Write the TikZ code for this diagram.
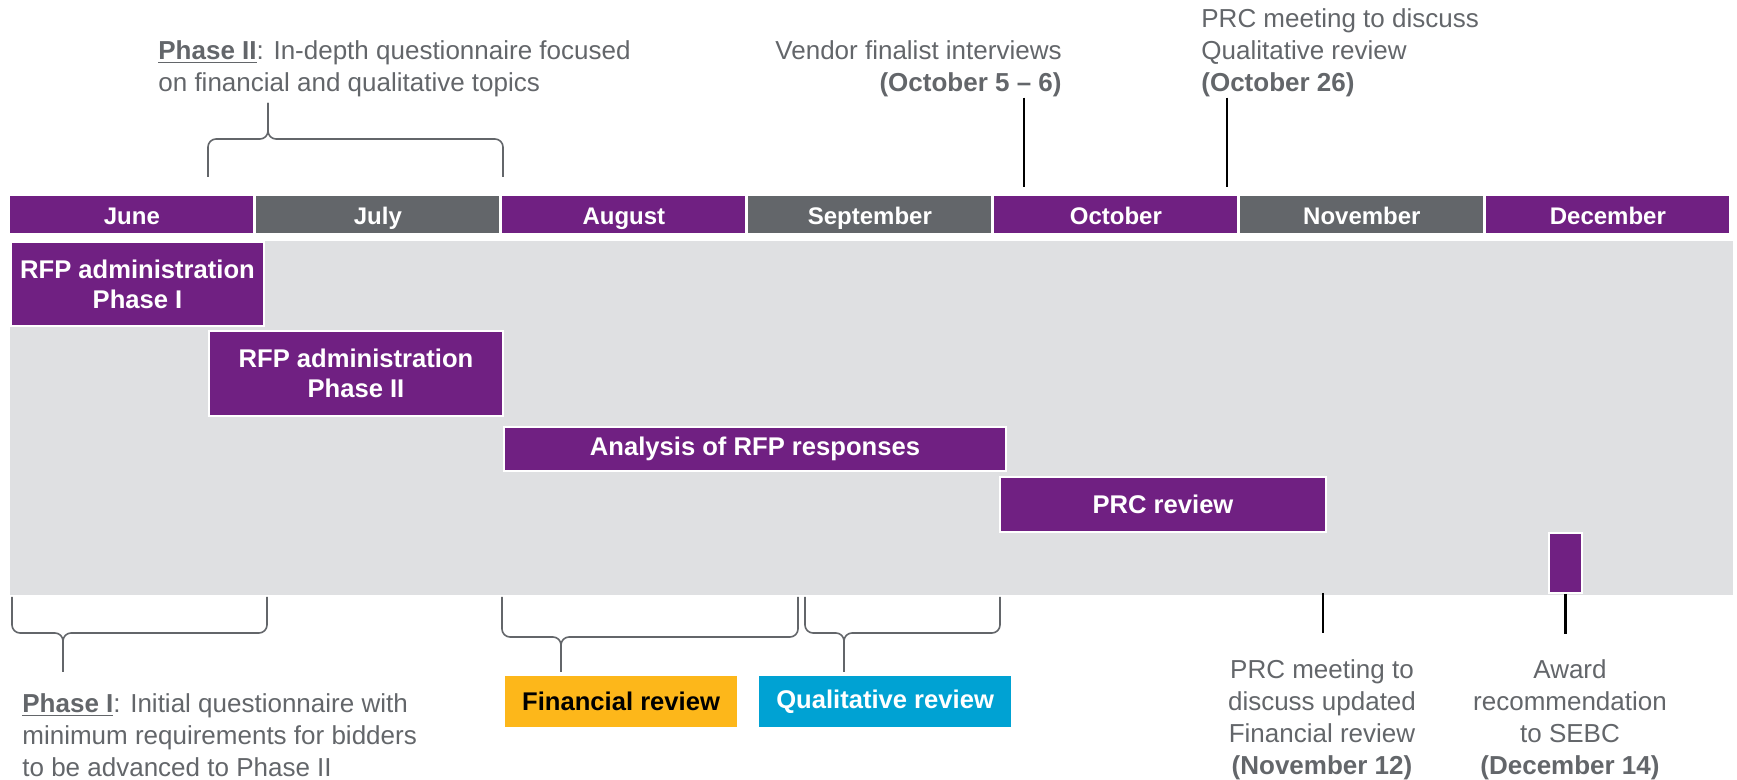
\documentclass[tikz,border=0pt]{standalone}
\usepackage{fontspec}
\setmainfont{Liberation Sans}
\usetikzlibrary{positioning}

\definecolor{rfppurple}{RGB}{112,32,130}
\definecolor{monthgray}{RGB}{99,102,106}
\definecolor{bggray}{RGB}{223,224,226}
\definecolor{finorange}{RGB}{253,183,26}
\definecolor{qualblue}{RGB}{0,162,211}
\definecolor{notegray}{RGB}{99,102,106}

% bracket: left x, right x, tip x, leg y, middle y, tip y
\newcommand{\phasebrace}[6]{%
	\draw[bracket] (#1,#4) -- (#1,#5) -- (#3,#5) -- (#3,#6);
	\draw[bracket] (#2,#4) -- (#2,#5) -- (#3,#5) -- (#3,#6);}

\begin{document}
\begin{tikzpicture}[
		x=0.5pt, y=-0.5pt,
		month/.style={fill=#1, text=white, font=\fontsize{12}{14}\selectfont\bfseries, anchor=north west, minimum width=121.5pt, minimum height=18.5pt, inner sep=0pt, text height=11.4pt, text depth=2.2pt},
		task/.style={draw=white, line width=1pt, fill=rfppurple, text=white, font=\fontsize{12.8}{15}\selectfont\bfseries, align=center, anchor=north west, inner sep=0pt},
		review/.style={draw=white, line width=0.6pt, font=\fontsize{12.8}{15}\selectfont\bfseries, anchor=north west, inner sep=0pt, minimum height=26pt},
		note/.style={text=notegray, font=\fontsize{13}{16}\selectfont, inner sep=0pt},
		bracket/.style={draw=notegray, line width=0.8pt, rounded corners=4pt},
		tickline/.style={draw=black, line width=1.2pt}
		]
		\useasboundingbox (0,0) rectangle (1737,780);
		
		% ==========================================
		% 1. MONTHS AND BACKGROUND
		% ==========================================
		
		\foreach \m/\c [count=\i from 0] in {June/rfppurple, July/monthgray, August/rfppurple, September/monthgray, October/rfppurple, November/monthgray, December/rfppurple}
		\node[month=\c] (\m) at ({10+\i*246}, 196) {\m};
		
		\fill[bggray] (10,241) rectangle (1733,595);
		
		% ==========================================
		% 2. ACTIVITIES
		% ==========================================
		
		\node[task, minimum width=126.5pt, minimum height=42pt] (admin1) at (10,241) {RFP administration\\Phase I};
		\node[task, minimum width=147pt, minimum height=42.5pt] (admin2) at (208,330) {RFP administration\\Phase II};
		\node[task, minimum width=251pt, minimum height=22pt] (analysis) at (503,426) {Analysis of RFP responses};
		\node[task, minimum width=163pt, minimum height=27.5pt] (prcreview) at (999,476) {PRC review};
		\node[task, minimum width=16.5pt, minimum height=30pt] (award) at (1548,532) {};
		
		\node[review, fill=finorange, text=black, minimum width=116.5pt] (finrev) at (504,675) {Financial review};
		\node[review, fill=qualblue, text=white, minimum width=126.5pt] (qualrev) at (758,675) {Qualitative review};
		
		% ==========================================
		% 3. NOTES
		% ==========================================
		
		\node[note, anchor=west, align=left] (phase2note) at (158,69) {\underline{\textbf{Phase II}}: In-depth questionnaire focused\\on financial and qualitative topics};
		\node[note, anchor=east, align=right] (vendornote) at (1062,69) {Vendor finalist interviews\\\textbf{(October 5 -- 6)}};
		\node[note, anchor=west, align=left] (prcnote1) at (1201,53) {PRC meeting to discuss\\Qualitative review\\\textbf{(October 26)}};
		\node[note, anchor=west, align=left] (phase1note) at (22,735) {\underline{\textbf{Phase I}}: Initial questionnaire with\\minimum requirements for bidders\\to be advanced to Phase II};
		\node[note, align=center] (prcnote2) at (1322,720) {PRC meeting to\\discuss updated\\Financial review\\\textbf{(November 12)}};
		\node[note, align=center] (awardnote) at (1570,720) {Award\\recommendation\\to SEBC\\\textbf{(December 14)}};
		
		% Brackets
		\phasebrace{208}{503}{268}{177}{139}{103}
		\phasebrace{12}{267}{63}{597}{633}{672}
		\phasebrace{502}{798}{561}{597}{637}{672}
		\phasebrace{805}{1000}{844}{597}{633}{672}
		
		% Milestone lines
		\coordinate (vendortick) at (1024,187);
		\coordinate (prctick) at (1227,187);
		\coordinate (novtick) at (1323,593);
		\draw[tickline] (vendornote.south -| vendortick) -- (vendortick);
		\draw[tickline] (prcnote1.south -| prctick) -- (prctick);
		\draw[tickline] (novtick) -- ++(0,40);
		\draw[tickline] (award.south) -- ++(0,40);
		
	\end{tikzpicture}
\end{document}
